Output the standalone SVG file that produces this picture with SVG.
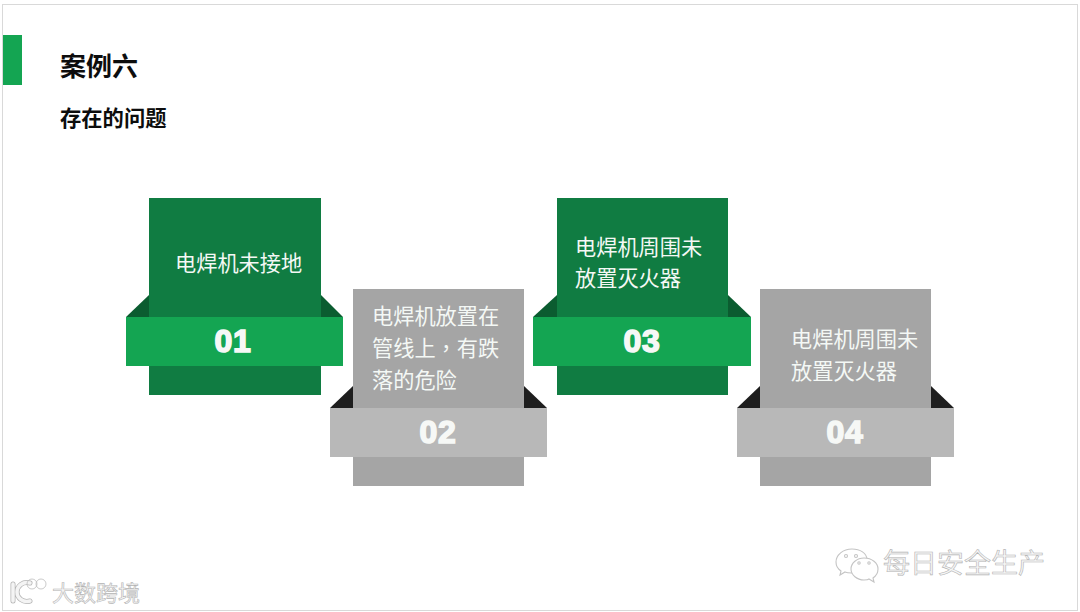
<svg xmlns="http://www.w3.org/2000/svg" width="1080" height="612" viewBox="0 0 1080 612">
<style>
text{font-family:"Liberation Sans","Noto Sans CJK SC",sans-serif}
.t{font-family:"Noto Sans CJK SC",sans-serif;font-size:21.200px;fill:#f4f8f5}
.n{font-family:"Liberation Sans",sans-serif;font-size:32px;font-weight:700;fill:#f6f8f6;text-anchor:middle;stroke:#f6f8f6;stroke-width:1.600;letter-spacing:.6px}
.gc{fill:#107c42}.gb{fill:#14a552}.gf{fill:#0b5c30}
.hc{fill:#a5a5a5}.hb{fill:#b8b8b8}.hf{fill:#1e1e1e}
.wm{font-family:"Noto Sans CJK SC",sans-serif;fill:#f6f6f6;stroke:#b4b4b4;stroke-width:.6}
.ic{fill:#fff;stroke:#c4c4c4;stroke-width:1.100}
.lg{fill:none;stroke:#f4f4f4;stroke-width:3.500;stroke-linecap:round}
.lo{fill:none;stroke:#bdbdbd;stroke-width:.8}
</style>
<rect width="1080" height="612" fill="#fff"/>
<rect x="2.500" y="4.500" width="1075" height="606" fill="#fff" stroke="#d9d9d9"/>
<g id="header">
<rect x="3" y="35" width="19" height="50" fill="#14a552"/>
<text x="60" y="76" font-size="26" font-weight="700" fill="#0d0d0d" style="font-family:'Noto Sans CJK SC',sans-serif">案例六</text>
<text x="60" y="126" font-size="21.300" font-weight="700" fill="#0d0d0d" style="font-family:'Noto Sans CJK SC',sans-serif">存在的问题</text>
</g>
<g id="node-01">
<polygon class="gf" points="126,317 149,295 149,317"/><polygon class="gf" points="321,295 343,317 321,317"/>
<rect class="gc" x="149" y="198" width="172" height="197"/>
<rect class="gb" x="126" y="317" width="217" height="49"/>
<text class="t" x="175" y="271">电焊机未接地</text>
<text class="n" x="233" y="352">01</text>
</g>
<g id="node-02">
<polygon class="hf" points="330,408 353,386 353,408"/><polygon class="hf" points="524,386 547,408 524,408"/>
<rect class="hc" x="353" y="289" width="171" height="197"/>
<rect class="hb" x="330" y="408" width="217" height="49"/>
<text class="t" x="372" y="324">电焊机放置在</text>
<text class="t" x="372" y="356">管线上<tspan style="font-family:'Noto Sans CJK TC',sans-serif">，</tspan>有跌</text>
<text class="t" x="372" y="388">落的危险</text>
<text class="n" x="438" y="443">02</text>
</g>
<g id="node-03">
<polygon class="gf" points="533,317 557,295 557,317"/><polygon class="gf" points="728,295 751,317 728,317"/>
<rect class="gc" x="557" y="198" width="171" height="197"/>
<rect class="gb" x="533" y="317" width="218" height="49"/>
<text class="t" x="575" y="255">电焊机周围未</text>
<text class="t" x="575" y="286">放置灭火器</text>
<text class="n" x="642" y="352">03</text>
</g>
<g id="node-04">
<polygon class="hf" points="737,408 760,386 760,408"/><polygon class="hf" points="931,386 954,408 931,408"/>
<rect class="hc" x="760" y="289" width="171" height="197"/>
<rect class="hb" x="737" y="408" width="217" height="49"/>
<text class="t" x="791" y="347">电焊机周围未</text>
<text class="t" x="791" y="379">放置灭火器</text>
<text class="n" x="845" y="443">04</text>
</g>
<g id="connectors"></g>
<g id="watermark-right">
<path class="ic" d="M852,549c-9,0-16,6-16,13c0,4 2,7 5,9l-1,4l5,-3c2,1 4,1 7,1c8,0 15,-6 15,-13s-7,-11-15,-11z"/>
<path class="ic" d="M864,558c-7,0-13,5-13,11s6,11 13,11c2,0 4,0 5,-1l5,3l-1,-4c3,-2 5,-5 5,-9c0,-6-6,-11-14,-11z"/>
<circle cx="846" cy="556" r="1.500" class="ic"/><circle cx="856" cy="556" r="1.500" class="ic"/><circle cx="859" cy="563" r="1.200" class="ic"/><circle cx="869" cy="563" r="1.200" class="ic"/>
<text class="wm" x="883" y="573" font-size="27">每日安全生产</text>
</g>
<g id="watermark-left">
<path d="M13,584v17M30,583c-7,-2-13,3-13,9s6,11 13,9" fill="none" stroke="#b5b5b5" stroke-width="5" stroke-linecap="round"/>
<path class="lg" d="M13,584v17M30,583c-7,-2-13,3-13,9s6,11 13,9"/>
<circle class="lo" cx="32" cy="584" r="5" fill="none"/><circle class="lo" cx="41" cy="584" r="5" fill="none"/>
<text class="wm" x="52" y="601" font-size="22">大数跨境</text>
</g>
</svg>
